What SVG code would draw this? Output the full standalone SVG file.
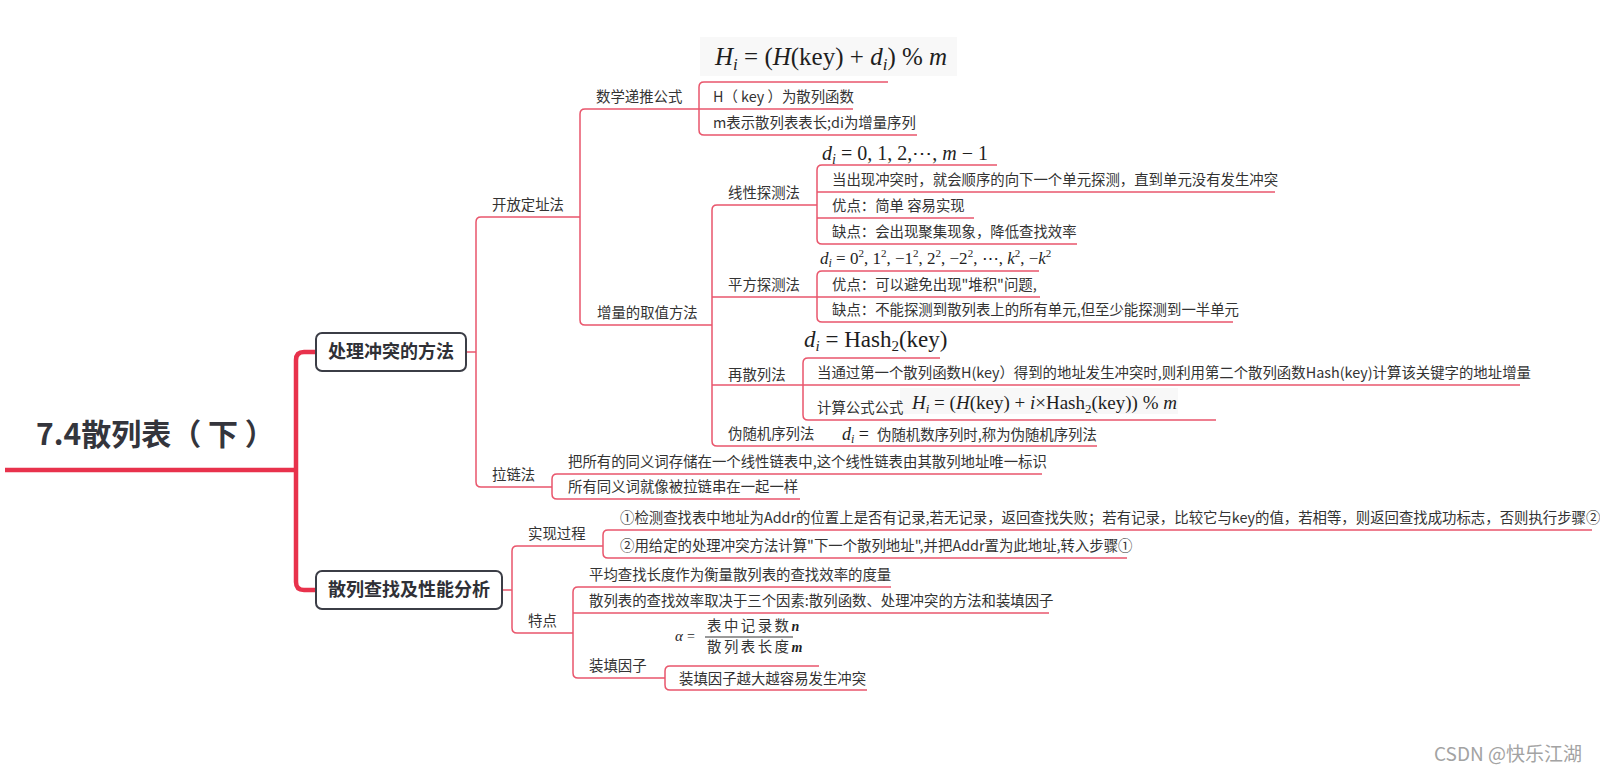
<svg xmlns="http://www.w3.org/2000/svg" width="1600" height="773" viewBox="0 0 1600 773">
<style>
.t{font-family:"Noto Sans CJK SC","Noto Sans",sans-serif;font-size:14.4px;fill:#333}
.b{font-family:"Noto Sans CJK SC","Noto Sans",sans-serif;font-weight:bold;font-size:18px;fill:#2f3036;text-anchor:middle}
.f{font-family:"Liberation Serif","DejaVu Serif",serif;fill:#1e1e1e}
.i{font-style:italic}
.box{fill:#fff;stroke:#3b3d46;stroke-width:2}
.ln{fill:none;stroke:#e9566c;stroke-width:1.5}
.thick{fill:none;stroke:#e8324c;stroke-width:4.5}
.bg{fill:#f8f8f8}
</style>
<rect width="1600" height="773" fill="#fff"/>
<g id="connectors">
<path class="thick" d="M5,470 H296"/>
<path class="thick" d="M316,352 H304 Q296,352 296,360 V582 Q296,590 304,590 H316"/>
<path class="ln" d="M466,352 H476"/>
<path class="ln" d="M580,217 H481 Q476,217 476,222 V482 Q476,487 481,487 H552"/>
<path class="ln" d="M699,109 H585 Q580,109 580,114 V320 Q580,325 585,325 H712"/>
<path class="ln" d="M888,82 H704 Q699,82 699,87 V130 Q699,135 704,135 H917"/>
<path class="ln" d="M699,109 H853"/>
<path class="ln" d="M817,205 H717 Q712,205 712,210 V441 Q712,446 717,446 H1097"/>
<path class="ln" d="M712,297 H817"/>
<path class="ln" d="M712,385 H803"/>
<path class="ln" d="M997,165 H822 Q817,165 817,170 V239 Q817,244 822,244 H1077"/>
<path class="ln" d="M817,192 H1275"/>
<path class="ln" d="M817,218 H974"/>
<path class="ln" d="M1039,271 H822 Q817,271 817,276 V317 Q817,322 822,322 H1233"/>
<path class="ln" d="M817,297 H1040"/>
<path class="ln" d="M940,358 H808 Q803,358 803,363 V415 Q803,420 808,420 H1216"/>
<path class="ln" d="M803,385 H1520"/>
<path class="ln" d="M1042,474 H557 Q552,474 552,479 V494 Q552,499 557,499 H800"/>
<path class="ln" d="M502,590 H512"/>
<path class="ln" d="M603,546 H517 Q512,546 512,551 V628 Q512,633 517,633 H573"/>
<path class="ln" d="M1592,530 H608 Q603,530 603,535 V553 Q603,558 608,558 H1127"/>
<path class="ln" d="M891,587 H578 Q573,587 573,592 V673 Q573,678 578,678 H665"/>
<path class="ln" d="M573,613 H1049"/>
<path class="ln" d="M819,666 H670 Q665,666 665,671 V685 Q665,690 670,690 H867"/>
</g>
<g id="root"><text x="36" y="445" font-family="Noto Sans CJK SC,Noto Sans,sans-serif" font-weight="bold" font-size="30" fill="#34353c" xml:space="preserve">7.4散列表（ 下 ）</text></g>
<g id="n-chongtu"><rect class="box" x="316" y="333" width="150" height="38" rx="6"/><text class="b" x="391" y="358">处理冲突的方法</text></g>
<g id="n-chazhao"><rect class="box" x="316" y="571" width="186" height="38" rx="6"/><text class="b" x="409" y="596">散列查找及性能分析</text></g>
<g id="n-kaifang"><text class="t" x="492" y="210">开放定址法</text></g>
<g id="n-lalian"><text class="t" x="492" y="480">拉链法</text></g>
<g id="n-shuxue"><text class="t" x="596" y="102">数学递推公式</text></g>
<g id="n-zengliang"><text class="t" x="597" y="318">增量的取值方法</text></g>
<g id="n-formula1"><rect class="bg" x="700" y="37" width="257" height="39"/><text class="f" x="715" y="65" font-size="25"><tspan class="i">H</tspan><tspan class="i" font-size="17" dy="5">i</tspan><tspan dy="-5"> = (</tspan><tspan class="i">H</tspan>(key) + <tspan class="i">d</tspan><tspan class="i" font-size="17" dy="5">i</tspan><tspan dy="-5">) % </tspan><tspan class="i">m</tspan></text></g>
<g id="n-hkey"><text class="t" x="713" y="102" xml:space="preserve">H（ key ）为散列函数</text></g>
<g id="n-mbiao"><text class="t" x="713" y="128">m表示散列表表长;di为增量序列</text></g>
<g id="n-xianxing"><text class="t" x="728" y="198">线性探测法</text></g>
<g id="n-pingfang"><text class="t" x="728" y="290">平方探测法</text></g>
<g id="n-zaisanlie"><text class="t" x="728" y="380">再散列法</text></g>
<g id="n-weisuiji"><text class="t" x="728" y="439">伪随机序列法</text></g>
<g id="n-lin-f"><text class="f" x="822" y="160" font-size="20"><tspan class="i">d</tspan><tspan class="i" font-size="14" dy="4">i</tspan><tspan dy="-4"> = 0, 1, 2,⋯, </tspan><tspan class="i">m</tspan> − 1</text></g>
<g id="n-lin-1"><text class="t" x="832" y="185">当出现冲突时，就会顺序的向下一个单元探测，直到单元没有发生冲突</text></g>
<g id="n-lin-2"><text class="t" x="832" y="211">优点：简单 容易实现</text></g>
<g id="n-lin-3"><text class="t" x="832" y="237">缺点：会出现聚集现象，降低查找效率</text></g>
<g id="n-sq-f"><text class="f" x="820" y="264" font-size="17"><tspan class="i">d</tspan><tspan class="i" font-size="12" dy="3">i</tspan><tspan dy="-3"> = 0</tspan><tspan font-size="11" dy="-7">2</tspan><tspan dy="7">, 1</tspan><tspan font-size="11" dy="-7">2</tspan><tspan dy="7">, −1</tspan><tspan font-size="11" dy="-7">2</tspan><tspan dy="7">, 2</tspan><tspan font-size="11" dy="-7">2</tspan><tspan dy="7">, −2</tspan><tspan font-size="11" dy="-7">2</tspan><tspan dy="7">,  ⋯, </tspan><tspan class="i">k</tspan><tspan font-size="11" dy="-7">2</tspan><tspan dy="7">, −</tspan><tspan class="i">k</tspan><tspan font-size="11" dy="-7">2</tspan></text></g>
<g id="n-sq-1"><text class="t" x="832" y="290">优点：可以避免出现"堆积"问题,</text></g>
<g id="n-sq-2"><text class="t" x="832" y="315">缺点：不能探测到散列表上的所有单元,但至少能探测到一半单元</text></g>
<g id="n-re-f"><text class="f" x="804" y="347" font-size="23"><tspan class="i">d</tspan><tspan class="i" font-size="15" dy="4">i</tspan><tspan dy="-4"> = Hash</tspan><tspan font-size="15" dy="4">2</tspan><tspan dy="-4">(key)</tspan></text></g>
<g id="n-re-1"><text class="t" x="817" y="378">当通过第一个散列函数H(key）得到的地址发生冲突时,则利用第二个散列函数Hash(key)计算该关键字的地址增量</text></g>
<g id="n-re-2"><rect class="bg" x="900" y="388" width="278" height="26"/><text class="t" x="817" y="413">计算公式公式</text><text class="f" x="912" y="409" font-size="19"><tspan class="i">H</tspan><tspan class="i" font-size="13" dy="4">i</tspan><tspan dy="-4"> = (</tspan><tspan class="i">H</tspan>(key) + <tspan class="i">i</tspan>×Hash<tspan font-size="13" dy="4">2</tspan><tspan dy="-4">(key)) % </tspan><tspan class="i">m</tspan></text></g>
<g id="n-ws-1"><text class="f i" x="842" y="440" font-size="18">d<tspan font-size="12" dy="3">i</tspan><tspan dy="-3" font-style="normal"> =</tspan></text><text class="t" x="877" y="440">伪随机数序列时,称为伪随机序列法</text></g>
<g id="n-ll-1"><text class="t" x="568" y="467">把所有的同义词存储在一个线性链表中,这个线性链表由其散列地址唯一标识</text></g>
<g id="n-ll-2"><text class="t" x="568" y="492">所有同义词就像被拉链串在一起一样</text></g>
<g id="n-shixian"><text class="t" x="528" y="539">实现过程</text></g>
<g id="n-tedian"><text class="t" x="528" y="626">特点</text></g>
<g id="n-sx-1"><text class="t" x="620" y="523">①检测查找表中地址为Addr的位置上是否有记录,若无记录，返回查找失败；若有记录，比较它与key的值，若相等，则返回查找成功标志，否则执行步骤②</text></g>
<g id="n-sx-2"><text class="t" x="620" y="551">②用给定的处理冲突方法计算"下一个散列地址",并把Addr置为此地址,转入步骤①</text></g>
<g id="n-td-1"><text class="t" x="589" y="580">平均查找长度作为衡量散列表的查找效率的度量</text></g>
<g id="n-td-2"><text class="t" x="589" y="606">散列表的查找效率取决于三个因素:散列函数、处理冲突的方法和装填因子</text></g>
<g id="n-zhuangtian"><text class="t" x="589" y="671">装填因子</text></g>
<g id="n-alpha"><text class="f i" x="675" y="641" font-size="15">α</text><text class="f" x="687" y="641" font-size="14">=</text><text class="t" x="707" y="631" font-size="12.5" letter-spacing="2.5">表中记录数<tspan class="f i" font-weight="bold" font-size="14">n</tspan></text><line x1="705" y1="637" x2="793" y2="637" stroke="#333" stroke-width="1"/><text class="t" x="707" y="652" font-size="12.5" letter-spacing="2.5">散列表长度<tspan class="f i" font-weight="bold" font-size="14">m</tspan></text></g>
<g id="n-zt-1"><text class="t" x="679" y="684">装填因子越大越容易发生冲突</text></g>
<text x="1434" y="761" font-family="Noto Sans CJK SC,Noto Sans,sans-serif" font-size="19" fill="#a3a3a3">CSDN @快乐江湖</text>
</svg>
